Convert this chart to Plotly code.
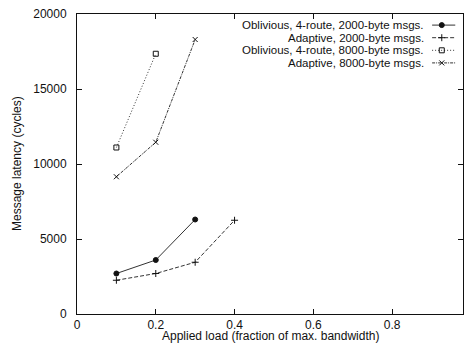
import plotly.graph_objects as go

# Data
load_obl_2000 = [0.1, 0.2, 0.3]
lat_obl_2000 = [2700, 3600, 6300]
load_ada_2000 = [0.1, 0.2, 0.3, 0.4]
lat_ada_2000 = [2250, 2700, 3450, 6250]
load_obl_8000 = [0.1, 0.2]
lat_obl_8000 = [11100, 17350]
load_ada_8000 = [0.1, 0.2, 0.3]
lat_ada_8000 = [9150, 11450, 18300]

names = ["Oblivious, 4-route, 2000-byte msgs.",
         "Adaptive, 2000-byte msgs.",
         "Oblivious, 4-route, 8000-byte msgs.",
         "Adaptive, 8000-byte msgs."]
xs = [load_obl_2000, load_ada_2000, load_obl_8000, load_ada_8000]
ys = [lat_obl_2000, lat_ada_2000, lat_obl_8000, lat_ada_8000]
x_ticks = [0, 0.2, 0.4, 0.6, 0.8]
x_ticktext = ["0", "0.2", "0.4", "0.6", "0.8"]
y_ticks = [0, 5000, 10000, 15000, 20000]

dashes = ["solid", "4px,2px", "1px,2px", "3px,1px,1px,1px"]
symbols = ["circle", "cross-thin", "square-open", "x-thin"]
sizes = [5, 5, 5, 5]

FONT = "Liberation Sans, Arial, sans-serif"
fig = go.Figure()
for i in range(4):
    fig.add_trace(go.Scatter(
        x=xs[i], y=ys[i], mode="lines+markers", name=names[i],
        line=dict(color="#333", width=1, dash=dashes[i]),
        marker=dict(symbol=symbols[i], size=sizes[i], color="#111",
                    line=dict(color="#111", width=1)),
        showlegend=False))

# legend samples on an overlay axis (paper-like 0..1)
leg_y = [0.963, 0.921, 0.879, 0.837]
for i in range(4):
    fig.add_trace(go.Scatter(
        x=[0.92, 0.945, 0.98], y=[leg_y[i]] * 3, xaxis="x2", yaxis="y2",
        mode="lines", line=dict(color="#333", width=1, dash=dashes[i]),
        showlegend=False, hoverinfo="skip"))
    fig.add_trace(go.Scatter(
        x=[0.945], y=[leg_y[i]], xaxis="x2", yaxis="y2", mode="markers",
        marker=dict(symbol=symbols[i], size=sizes[i], color="#111",
                    line=dict(color="#111", width=1)),
        showlegend=False, hoverinfo="skip"))
    fig.add_annotation(x=0.905, y=leg_y[i], xref="x2", yref="y2", text=names[i],
                       showarrow=False, xanchor="right", yanchor="middle",
                       font=dict(family=FONT, size=11.5, color="#111"))

# axis titles
fig.add_annotation(x=0.5, y=0, xref="paper", yref="paper", yshift=-22,
                   text="Applied load (fraction of max. bandwidth)",
                   showarrow=False, xanchor="center", yanchor="middle",
                   font=dict(family=FONT, size=12, color="#111"))
fig.add_annotation(x=0, y=0.5, xref="paper", yref="paper", xshift=-60,
                   text="Message latency (cycles)", textangle=-90,
                   showarrow=False, xanchor="center", yanchor="middle",
                   font=dict(family=FONT, size=12, color="#111"))

fig.update_layout(
    width=466, height=343,
    margin=dict(l=77, r=3, t=14, b=29),
    paper_bgcolor="white", plot_bgcolor="white",
    font=dict(family=FONT, size=12, color="#111"),
    xaxis=dict(range=[0, 0.98], tickvals=x_ticks, ticktext=x_ticktext,
               ticks="inside", ticklen=5, tickcolor="#111", mirror="ticks",
               showline=True, linecolor="#111", linewidth=1, showgrid=False,
               zeroline=False, automargin=False, ticklabelstandoff=0),
    yaxis=dict(range=[0, 20000], tickvals=y_ticks, tickformat="d",
               ticks="inside", ticklen=5, tickcolor="#111", mirror="ticks",
               showline=True, linecolor="#111", linewidth=1, showgrid=False,
               zeroline=False, automargin=False, ticklabelstandoff=7),
    xaxis2=dict(range=[0, 1], overlaying="x", visible=False, fixedrange=True),
    yaxis2=dict(range=[0, 1], overlaying="y", visible=False, fixedrange=True),
)
fig.write_html("out.html",
               config={"displayModeBar": False},
               post_script="document.body.style.margin='0';"
                           "document.body.style.overflow='hidden';")
